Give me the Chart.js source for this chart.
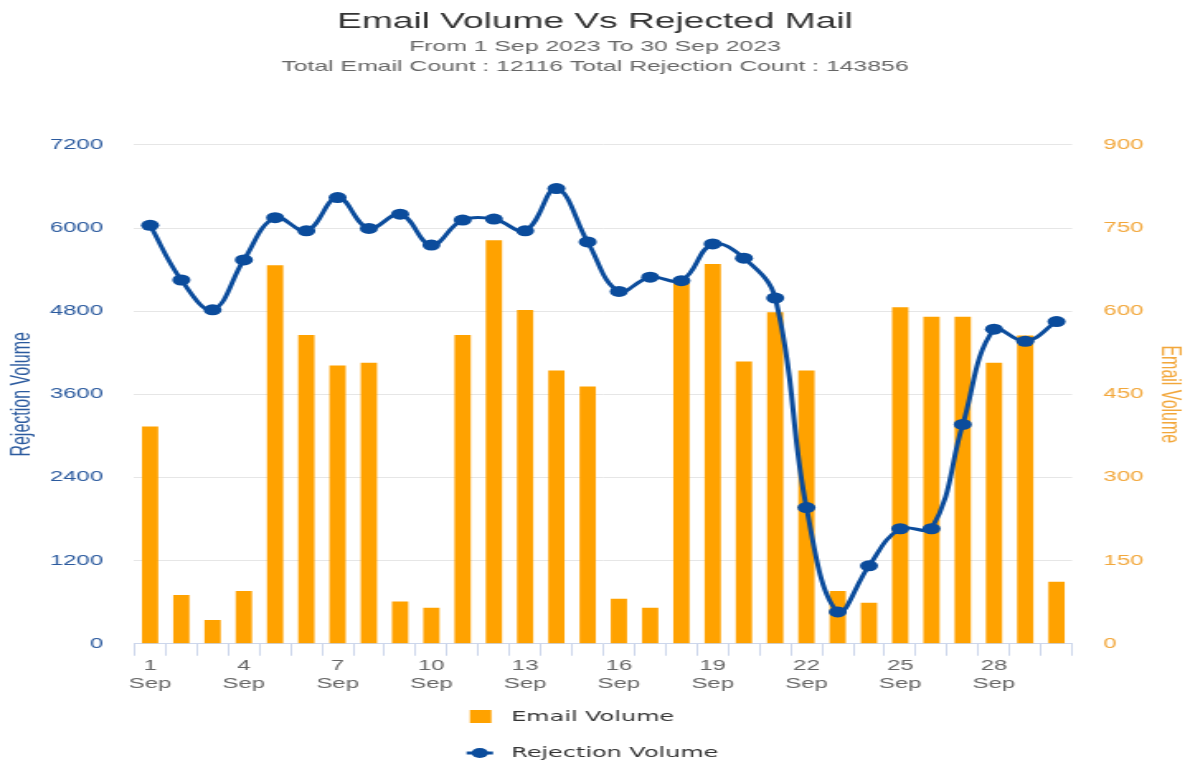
<!DOCTYPE html>
<html>
<head>
<meta charset="utf-8">
<title>Email Volume Vs Rejected Mail</title>
<script src="https://cdn.jsdelivr.net/npm/chart.js@4.4.1/dist/chart.umd.min.js"></script>
<style>
  html, body { margin: 0; padding: 0; background: #fff; }
  canvas { display: block; }
</style>
</head>
<body>
<!-- drawn at 718px wide and shown stretched to 1185px, like the source screenshot -->
<canvas id="chart" width="718" height="767" style="width:1185px;height:767px"></canvas>
<script>
var categories = [
  "1 Sep", "2 Sep", "3 Sep", "4 Sep", "5 Sep", "6 Sep", "7 Sep", "8 Sep", "9 Sep", "10 Sep",
  "11 Sep", "12 Sep", "13 Sep", "14 Sep", "15 Sep", "16 Sep", "17 Sep", "18 Sep", "19 Sep", "20 Sep",
  "21 Sep", "22 Sep", "23 Sep", "24 Sep", "25 Sep", "26 Sep", "27 Sep", "28 Sep", "29 Sep", "30 Sep"
];
var emailVolume = [
  392, 88, 43, 95, 683, 557, 502, 507, 76, 65,
  557, 728, 602, 493, 464, 81, 65, 652, 685, 509,
  598, 493, 95, 74, 607, 590, 590, 507, 556, 112
];
var rejectionVolume = [
  6040, 5250, 4820, 5540, 6150, 5960, 6440, 5995, 6200, 5755,
  6115, 6130, 5960, 6570, 5800, 5085, 5290, 5240, 5770, 5565,
  4990, 1965, 460, 1125, 1660, 1660, 3165, 4540, 4365, 4650
];
var rejectionAxis = { min: 0, max: 7200, step: 1200 };
var emailAxis = { min: 0, max: 900, step: 150 };

var blue = "#0b4c9c";
var blueText = "#2b5a9e";
var orange = "#ffa200";
var orangeText = "#f2a73b";

Chart.defaults.font.family = "'Liberation Sans', Arial, sans-serif";

function plainNumber(value) {
  return String(value);
}

// Highcharts-like legend: one item per row, centred under the chart
var stackedLegend = {
  id: "stackedLegend",
  afterDraw: function (chart) {
    var ctx = chart.ctx;
    var items = chart.data.datasets;
    ctx.save();
    ctx.font = "14.5px 'DejaVu Sans', sans-serif";
    var maxText = 0;
    items.forEach(function (ds) {
      maxText = Math.max(maxText, ctx.measureText(ds.label).width);
    });
    var left = (chart.width - (16 + 11 + maxText)) / 2;
    var y = 717;
    items.forEach(function (ds) {
      if (ds.type === "line") {
        ctx.strokeStyle = ds.borderColor;
        ctx.lineWidth = 3;
        ctx.beginPath();
        ctx.moveTo(left, y);
        ctx.lineTo(left + 16, y);
        ctx.stroke();
        ctx.fillStyle = ds.pointBackgroundColor;
        ctx.beginPath();
        ctx.arc(left + 8, y, 5, 0, Math.PI * 2);
        ctx.fill();
      } else {
        ctx.fillStyle = ds.backgroundColor;
        ctx.fillRect(left + 2, y - 7, 13, 13);
      }
      ctx.fillStyle = "#333333";
      ctx.textBaseline = "middle";
      ctx.textAlign = "left";
      ctx.fillText(ds.label, left + 27, y);
      y += 36;
    });
    ctx.restore();
  }
};

var ctx = document.getElementById("chart");
var mixedChart = new Chart(ctx, {
  data: {
    labels: categories,
    datasets: [
      {
        type: "bar",
        label: "Email Volume",
        data: emailVolume,
        yAxisID: "yEmail",
        backgroundColor: orange,
        barPercentage: 0.52,
        categoryPercentage: 1.0,
        order: 1
      },
      {
        type: "line",
        label: "Rejection Volume",
        data: rejectionVolume,
        yAxisID: "yReject",
        borderColor: blue,
        borderWidth: 3,
        pointBackgroundColor: blue,
        pointBorderColor: blue,
        pointRadius: 5.5,
        pointBorderWidth: 0,
        tension: 0.4,
        fill: false,
        order: 0
      }
    ]
  },
  options: {
    responsive: false,
    animation: false,
    devicePixelRatio: 1,
    layout: {
      padding: { left: 3, right: 0, top: 0, bottom: 73 }
    },
    plugins: {
      legend: { display: false },
      tooltip: { enabled: false },
      title: {
        display: true,
        text: "Email Volume Vs Rejected Mail",
        color: "#333333",
        font: { size: 22.5, weight: "normal" },
        padding: { top: 8, bottom: 2 }
      },
      subtitle: {
        display: true,
        text: [
          "From 1 Sep 2023 To 30 Sep 2023",
          "Total Email Count : 12116 Total Rejection Count : 143856"
        ],
        color: "#666666",
        font: { size: 15, lineHeight: 1.33 },
        padding: { top: 0, bottom: 68 }
      }
    },
    scales: {
      x: {
        type: "category",
        offset: true,
        grid: {
          offset: true,
          drawOnChartArea: false,
          drawTicks: true,
          tickLength: 12,
          color: "#ccd6eb"
        },
        border: { display: true, color: "#ccd6eb", width: 1 },
        ticks: {
          autoSkip: false,
          maxRotation: 0,
          padding: 1,
          color: "#666666",
          font: { size: 14.5, lineHeight: 1.25 },
          callback: function (value, index) {
            if (index % 3 !== 0) return "";
            return this.getLabelForValue(value).split(" ");
          }
        }
      },
      yReject: {
        type: "linear",
        position: "left",
        min: rejectionAxis.min,
        max: rejectionAxis.max,
        grid: { color: "#e6e6e6", drawTicks: true, tickLength: 17, tickColor: "rgba(0,0,0,0)" },
        border: { display: false },
        ticks: {
          stepSize: rejectionAxis.step,
          padding: 2,
          color: blueText,
          font: { size: 14.5 },
          callback: plainNumber
        },
        title: {
          display: true,
          text: "Rejection Volume",
          color: blueText,
          font: { size: 16 },
          padding: { top: 1, bottom: 5 }
        }
      },
      yEmail: {
        type: "linear",
        position: "right",
        min: emailAxis.min,
        max: emailAxis.max,
        grid: { drawOnChartArea: false, drawTicks: true, tickLength: 17, tickColor: "rgba(0,0,0,0)" },
        border: { display: false },
        ticks: {
          stepSize: emailAxis.step,
          padding: 2,
          color: orangeText,
          font: { size: 14.5 },
          callback: plainNumber
        },
        title: {
          display: true,
          text: "Email Volume",
          color: orangeText,
          font: { size: 16 },
          padding: { top: 0, bottom: 4 }
        }
      }
    }
  },
  plugins: [stackedLegend]
});
</script>
</body>
</html>
